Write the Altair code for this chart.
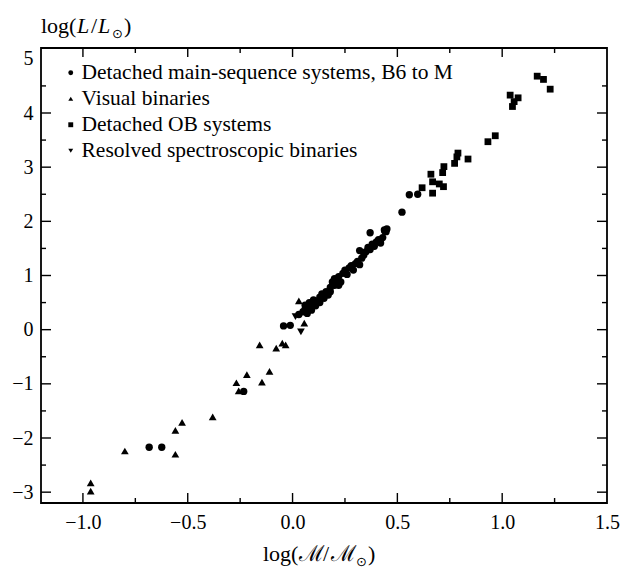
import altair as alt
import pandas as pd

# ---- data ----
cats = ["Detached main-sequence systems, B6 to M", "Visual binaries",
        "Detached OB systems", "Resolved spectroscopic binaries"]
shapes = ["circle", "triangle-up", "square", "triangle-down"]
sizes = [54, 60, 46, 60]

ms_x = [-0.684, -0.624, -0.233, -0.043, -0.011,
        0.03, 0.05, 0.06, 0.07, 0.08, 0.09, 0.10, 0.10, 0.11, 0.12, 0.13, 0.13, 0.14, 0.15,
        0.16, 0.17, 0.18, 0.19, 0.20, 0.20, 0.21, 0.22, 0.23, 0.24, 0.25, 0.26, 0.27, 0.28,
        0.29, 0.30, 0.31, 0.32, 0.33, 0.34, 0.35, 0.36, 0.37, 0.38, 0.39, 0.40, 0.41, 0.42,
        0.43, 0.44, 0.45, 0.37, 0.32, 0.22, 0.18, 0.08, 0.06,
        0.438, 0.446, 0.522, 0.557, 0.597]
ms_y = [-2.17, -2.17, -1.14, 0.07, 0.08,
        0.28, 0.33, 0.38, 0.30, 0.42, 0.36, 0.48, 0.55, 0.44, 0.52, 0.60, 0.50, 0.66, 0.58,
        0.70, 0.64, 0.78, 0.88, 0.82, 0.94, 0.90, 0.98, 0.88, 1.04, 1.10, 1.02, 1.14, 1.18,
        1.10, 1.22, 1.26, 1.20, 1.32, 1.38, 1.44, 1.52, 1.48, 1.58, 1.54, 1.62, 1.66, 1.60,
        1.70, 1.82, 1.86, 1.79, 1.46, 0.82, 0.70, 0.50, 0.45,
        1.84, 1.81, 2.17, 2.49, 2.50]

vb_x = [-0.963, -0.963, -0.80, -0.559, -0.559, -0.527, -0.381, -0.268, -0.218, -0.257,
        -0.146, -0.110, -0.157, -0.078, -0.049, -0.033, 0.030, 0.056]
vb_y = [-2.83, -2.98, -2.24, -2.30, -1.86, -1.71, -1.61, -0.98, -0.83, -1.13,
        -0.97, -0.77, -0.28, -0.34, -0.25, -0.28, 0.53, 0.12]

ob_x = [1.167, 1.197, 1.229, 1.038, 1.076, 1.057, 1.049, 0.932, 0.967, 0.789, 0.784,
        0.773, 0.837, 0.722, 0.716, 0.660, 0.668, 0.700, 0.720, 0.668, 0.618]
ob_y = [4.68, 4.62, 4.44, 4.33, 4.28, 4.21, 4.12, 3.47, 3.58, 3.26, 3.19,
        3.07, 3.15, 3.01, 2.90, 2.87, 2.73, 2.69, 2.64, 2.52, 2.62]

rs_x = [0.014, 0.040, 0.343]
rs_y = [0.24, -0.04, 1.36]

x_major = [-1.0, -0.5, 0.0, 0.5, 1.0]
x_minor = [-0.75, -0.25, 0.25, 0.75, 1.25]
x_labels = [-1.0, -0.5, 0.0, 0.5, 1.0, 1.5]
y_major = [-3, -2, -1, 0, 1, 2, 3, 4]
y_minor = [-2.5, -1.5, -0.5, 0.5, 1.5, 2.5, 3.5, 4.5]
y_labels = [-3, -2, -1, 0, 1, 2, 3, 4, 5]

# ---- build table ----
rows = []
for cat, xs_, ys_ in zip(cats, [ms_x, vb_x, ob_x, rs_x], [ms_y, vb_y, ob_y, rs_y]):
    for a, b in zip(xs_, ys_):
        rows.append({"x": a, "y": b, "type": cat})
df = pd.DataFrame(rows)

W, H = 566, 455
SERIF = "Liberation Serif"

xs = alt.Scale(domain=[-1.2, 1.5], nice=False, zero=False)
ys = alt.Scale(domain=[-3.2, 5.2], nice=False, zero=False)
xaxis = alt.Axis(values=x_labels, format=".1f", title=None, ticks=False, domain=False,
                 grid=False, labelFont=SERIF, labelFontSize=20, labelColor="black",
                 labelPadding=9, labelFlush=False, labelOverlap=False)
yaxis = alt.Axis(values=y_labels, format="d", title=None, ticks=False, domain=False,
                 grid=False, labelFont=SERIF, labelFontSize=20, labelColor="black",
                 labelPadding=8, labelFlush=False, labelOverlap=False)

X = alt.X("x:Q", scale=xs, axis=xaxis)
Y = alt.Y("y:Q", scale=ys, axis=yaxis)

shape_enc = alt.Shape("type:N", scale=alt.Scale(domain=cats, range=shapes),
                      legend=alt.Legend(title=None, orient="none", legendX=13, legendY=14,
                                        labelFont=SERIF, labelFontSize=21.5, labelColor="black",
                                        symbolSize=24, symbolFillColor="black",
                                        symbolStrokeColor="black", symbolStrokeWidth=0,
                                        symbolOpacity=1, rowPadding=3, labelOffset=0,
                                        symbolOffset=6, padding=0, labelLimit=600))

point_layers = []
for cat, sz in zip(cats, sizes):
    point_layers.append(
        alt.Chart(df).transform_filter(alt.datum.type == cat)
        .mark_point(filled=True, color="black", opacity=1, size=sz)
        .encode(x=X, y=Y, shape=shape_enc)
    )

xmaj = pd.DataFrame({"x": x_major})
xmin = pd.DataFrame({"x": x_minor})
ymaj = pd.DataFrame({"y": y_major})
ymin = pd.DataFrame({"y": y_minor})

def xticks(d, top, L):
    if top:
        y1, y2 = 0, L
    else:
        y1, y2 = H, H - L
    return alt.Chart(d).mark_rule(color="black", strokeWidth=1.4).encode(
        x=X, y=alt.value(y1), y2=alt.value(y2))

def yticks(d, left, L):
    if left:
        x1, x2 = 0, L
    else:
        x1, x2 = W, W - L
    return alt.Chart(d).mark_rule(color="black", strokeWidth=1.4).encode(
        y=Y, x=alt.value(x1), x2=alt.value(x2))

tick_layers = [xticks(xmaj, True, 9), xticks(xmaj, False, 10),
               xticks(xmin, True, 5), xticks(xmin, False, 5),
               yticks(ymaj, True, 10), yticks(ymaj, False, 10),
               yticks(ymin, True, 5), yticks(ymin, False, 5)]

one = pd.DataFrame({"a": [0]})

frame = alt.Chart(one).mark_rect(fill=None, stroke="black", strokeWidth=1.8).encode(
    x=alt.value(0), x2=alt.value(W), y=alt.value(0), y2=alt.value(H))

def piece(text, x, y, size=22, style="normal", font=SERIF):
    return alt.Chart(one).mark_text(text=text, align="left", baseline="alphabetic",
                                    fontSize=size, fontStyle=style, font=font,
                                    color="black").encode(x=alt.value(x), y=alt.value(y))

# y title: log(L/L_sun)
yb = -15
ytitle = [piece("log(", 0, yb), piece("L", 36, yb, style="italic"),
          piece("/", 50, yb), piece("L", 57, yb, style="italic"),
          piece("⊙", 71, yb + 5, size=13, font="DejaVu Sans"),
          piece(")", 83, yb)]

# x title: log(M/M_sun)
xb = 513
x0 = 222
xtitle = [piece("log(", x0, xb), piece("ℳ", x0 + 36, xb, font="DejaVu Serif"),
          piece("/", x0 + 60, xb), piece("ℳ", x0 + 68, xb, font="DejaVu Serif"),
          piece("⊙", x0 + 93, xb + 5, size=13, font="DejaVu Sans"),
          piece(")", x0 + 105, xb)]

chart = alt.layer(*point_layers, *tick_layers, frame, *ytitle, *xtitle).properties(
    width=W, height=H,
    autosize=alt.AutoSizeParams(type="none"),
    padding={"left": 41, "top": 48, "right": 16, "bottom": 68},
    background="white",
).configure_view(strokeWidth=0
).configure_axis(labelFont=SERIF, labelColor="black"
).configure_legend(labelFont=SERIF)

chart.save("out.html", embed_options={"renderer": "svg", "actions": False})
